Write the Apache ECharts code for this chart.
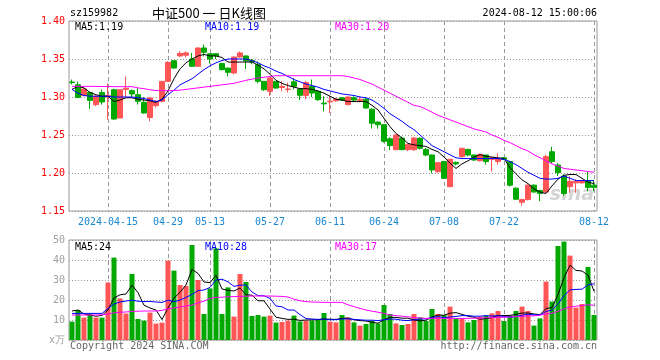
<!DOCTYPE html>
<html><head><meta charset="utf-8">
<script src="https://cdn.jsdelivr.net/npm/echarts@6/dist/echarts.min.js"></script>
<style>html,body{margin:0;padding:0;background:#fff}#c{width:660px;height:360px}</style>
</head><body><div id="c"></div>
<script>
const dates = ['2024-04-03','2024-04-08','2024-04-09','2024-04-10','2024-04-11','2024-04-12','2024-04-15','2024-04-16','2024-04-17','2024-04-18','2024-04-19','2024-04-22','2024-04-23','2024-04-24','2024-04-25','2024-04-26','2024-04-29','2024-04-30',
'2024-05-06','2024-05-07','2024-05-08','2024-05-09','2024-05-10','2024-05-13','2024-05-14','2024-05-15','2024-05-16','2024-05-17','2024-05-20','2024-05-21','2024-05-22','2024-05-23','2024-05-24','2024-05-27','2024-05-28','2024-05-29','2024-05-30','2024-05-31',
'2024-06-03','2024-06-04','2024-06-05','2024-06-06','2024-06-07','2024-06-11','2024-06-12','2024-06-13','2024-06-14','2024-06-17','2024-06-18','2024-06-19','2024-06-20','2024-06-21','2024-06-24','2024-06-25','2024-06-26','2024-06-27','2024-06-28',
'2024-07-01','2024-07-02','2024-07-03','2024-07-04','2024-07-05','2024-07-08','2024-07-09','2024-07-10','2024-07-11','2024-07-12','2024-07-15','2024-07-16','2024-07-17','2024-07-18','2024-07-19','2024-07-22','2024-07-23','2024-07-24','2024-07-25','2024-07-26','2024-07-29','2024-07-30','2024-07-31',
'2024-08-01','2024-08-02','2024-08-05','2024-08-06','2024-08-07','2024-08-08','2024-08-09','2024-08-12'];

const opens = [1.3197,1.3160,1.3018,1.3060,1.2900,1.3060,1.3000,1.3096,1.2724,1.3100,1.3083,1.3030,1.2930,1.2730,1.2886,1.2943,1.3206,1.3478,
1.3540,1.3550,1.3500,1.3404,1.3645,1.3570,1.3570,1.3440,1.3380,1.3316,1.3526,1.3540,1.3480,1.3425,1.3206,1.3075,1.3206,1.3125,1.3100,1.3200,
1.3105,1.3020,1.3140,1.3075,1.2920,1.2935,1.2950,1.2990,1.2900,1.2990,1.2955,1.2970,1.2840,1.2670,1.2636,1.2450,1.2307,1.2460,1.2307,
1.2307,1.2456,1.2310,1.2237,1.2018,1.2150,1.1820,1.2140,1.2215,1.2310,1.2237,1.2162,1.2237,1.2180,1.2150,1.2200,1.2150,1.1800,1.1615,1.1650,1.1840,1.1770,1.1750,
1.2280,1.2105,1.1960,1.1820,1.1870,1.1870,1.1900,1.1840];
const closes = [1.3190,1.2995,1.3105,1.2955,1.3010,1.2935,1.3020,1.2711,1.3096,1.3115,1.3040,1.2943,1.2790,1.2987,1.2943,1.3206,1.3456,1.3382,
1.3575,1.3580,1.3404,1.3645,1.3588,1.3500,1.3540,1.3360,1.3325,1.3526,1.3580,1.3475,1.3460,1.3206,1.3096,1.3250,1.3118,1.3140,1.3105,1.3140,
1.3022,1.3190,1.3052,1.2965,1.2910,1.2945,1.2975,1.2960,1.3000,1.2960,1.2970,1.2855,1.2655,1.2635,1.2417,1.2360,1.2500,1.2307,1.2373,
1.2460,1.2325,1.2237,1.2040,1.2136,1.1930,1.2180,1.2120,1.2325,1.2237,1.2171,1.2246,1.2150,1.2200,1.2190,1.2180,1.1840,1.1655,1.1650,1.1840,1.1750,1.1730,1.2215,
1.2150,1.2005,1.1730,1.1890,1.1890,1.1900,1.1810,1.1810];
const lows = [1.3165,1.2985,1.3010,1.2845,1.2880,1.2900,1.2700,1.2700,1.2720,1.3000,1.3000,1.2900,1.2780,1.2680,1.2860,1.2930,1.3200,1.3370,
1.3530,1.3520,1.3400,1.3400,1.3535,1.3440,1.3500,1.3350,1.3270,1.3300,1.3520,1.3370,1.3430,1.3180,1.3080,1.3010,1.3110,1.3075,1.3060,1.3100,
1.2960,1.2970,1.3000,1.2950,1.2810,1.2790,1.2940,1.2950,1.2890,1.2940,1.2930,1.2850,1.2585,1.2585,1.2400,1.2300,1.2300,1.2300,1.2290,
1.2290,1.2310,1.2220,1.1995,1.2000,1.1920,1.1815,1.2100,1.2200,1.2220,1.2160,1.2150,1.2110,1.2020,1.2110,1.2170,1.1820,1.1650,1.1570,1.1640,1.1740,1.1630,1.1740,
1.2130,1.1960,1.1700,1.1740,1.1740,1.1860,1.1760,1.1760];
const highs = [1.3230,1.3205,1.3115,1.3070,1.3020,1.3100,1.3180,1.3110,1.3100,1.3270,1.3100,1.3115,1.3000,1.3000,1.2960,1.3210,1.3470,1.3480,
1.3600,1.3600,1.3580,1.3650,1.3690,1.3570,1.3575,1.3450,1.3385,1.3530,1.3600,1.3545,1.3500,1.3470,1.3210,1.3255,1.3210,1.3210,1.3190,1.3250,
1.3110,1.3210,1.3230,1.3080,1.3010,1.3010,1.2990,1.3000,1.3010,1.3010,1.3010,1.2990,1.2850,1.2680,1.2640,1.2470,1.2510,1.2480,1.2390,
1.2475,1.2470,1.2330,1.2240,1.2140,1.2160,1.2185,1.2150,1.2330,1.2320,1.2240,1.2255,1.2240,1.2210,1.2260,1.2210,1.2160,1.1810,1.1660,1.1850,1.1850,1.1780,1.2240,
1.2345,1.2130,1.1980,1.1955,1.1920,1.1910,1.2020,1.1910];

const ma5 = [1.310,1.314,1.312,1.306,1.303,1.301,1.301,1.294,1.296,1.299,1.299,1.297,1.296,1.295,1.293,1.297,1.308,1.324,
1.337,1.345,1.350,1.354,1.356,1.354,1.354,1.352,1.346,1.346,1.346,1.346,1.346,1.342,1.337,1.330,1.322,1.318,1.315,1.313,
1.311,1.311,1.310,1.308,1.305,1.301,1.297,1.296,1.294,1.294,1.294,1.294,1.289,1.283,1.272,1.261,1.252,1.246,1.239,
1.237,1.236,1.235,1.231,1.228,1.221,1.213,1.206,1.212,1.216,1.221,1.224,1.222,1.221,1.220,1.219,1.207,1.199,1.191,1.186,1.179,1.175,1.173,
1.183,1.192,1.197,1.198,1.198,1.193,1.188,1.186];
const ma10 = [1.310,1.305,1.302,1.301,1.301,1.301,1.301,1.300,1.300,1.300,1.300,1.299,1.298,1.296,1.294,1.296,1.303,1.309,
1.316,1.320,1.324,1.330,1.336,1.341,1.345,1.348,1.350,1.350,1.350,1.350,1.348,1.345,1.341,1.338,1.334,1.331,1.327,1.323,
1.320,1.317,1.315,1.313,1.310,1.308,1.306,1.304,1.303,1.302,1.300,1.299,1.296,1.291,1.285,1.278,1.273,1.268,1.262,
1.257,1.250,1.243,1.236,1.232,1.228,1.224,1.220,1.219,1.219,1.219,1.219,1.219,1.219,1.219,1.218,1.215,1.211,1.206,1.201,1.197,1.193,1.192,
1.192,1.193,1.196,1.193,1.190,1.190,1.190,1.190];
const ma30 = [1.314,1.314,1.314,1.314,1.314,1.3138,1.3138,1.3136,1.3136,1.3136,1.3136,1.312,1.311,1.3095,1.3085,1.3083,1.3083,1.3085,
1.309,1.310,1.311,1.312,1.313,1.314,1.315,1.316,1.317,1.318,1.320,1.322,1.3235,1.325,1.326,1.327,1.328,1.328,1.328,1.328,
1.328,1.328,1.328,1.328,1.328,1.328,1.328,1.328,1.327,1.325,1.323,1.320,1.317,1.313,1.309,1.305,1.301,1.297,1.293,
1.289,1.2875,1.284,1.280,1.276,1.273,1.270,1.267,1.264,1.261,1.258,1.256,1.254,1.250,1.247,1.243,1.240,1.236,1.232,1.229,1.224,1.220,1.216,
1.212,1.209,1.206,1.205,1.204,1.203,1.202,1.201];

const volumes = [9.2,15,11.2,12.8,11.2,11.2,28.7,41.2,20.8,13.2,33,10.5,9.7,13.7,8.2,8.7,39.7,34.7,
27.5,27,47.5,30,13,25.8,45.8,13,26.3,11.7,33,29,12,12.5,11.7,12.2,8.7,9,9.7,12.2,
9.3,9.7,9.8,10,13.5,9.2,8.8,12.5,11.2,8.8,7.2,8,9.5,8.3,17.5,13,8.3,7.5,8,
13,11.3,9.5,15.5,13,12.5,16.7,10.8,10.8,8.8,10,11.7,12.2,13.3,14.5,9.5,12.2,14.5,16.7,14.5,7.2,10.8,29.2,
19.2,47,49.2,42.2,16.2,18,36.5,12.5];
const volMa5 = [14.5,15,13,12.5,11.9,12.3,15.0,21.0,22.6,23.0,27.4,23.7,17.4,16.0,15.0,10.2,16.0,21.0,
23.8,27.5,35.3,33.3,29.0,28.7,32.4,25.5,24.8,24.5,26.0,22.6,22.4,19.6,19.6,15.5,11.4,10.8,10.3,10.4,
9.8,10.0,10.1,10.2,10.5,10.4,10.3,10.8,11.0,10.1,9.7,9.5,8.9,8.4,10.1,11.3,11.3,10.9,10.9,
10.0,9.6,9.9,11.5,12.5,12.4,13.4,13.7,12.8,11.9,11.4,10.4,10.7,11.2,12.3,12.2,12.3,12.8,13.5,13.5,13.0,12.7,15.7,
16.2,22.7,31.1,37.4,34.8,34.5,32.4,24.4];
const volMa10 = [13.3,13.3,13.3,13.3,13.3,13.3,15.8,18.0,19.0,19.5,19.9,19.4,19.2,19.3,19.0,18.8,19.9,19.2,
19.9,21.3,22.8,24.7,25.0,26.3,30.0,30.4,29.1,26.8,27.4,27.5,24.0,22.2,22.1,20.8,17.0,16.6,15.0,15.0,
12.7,10.7,10.5,10.3,10.5,10.1,10.2,10.5,10.6,10.3,10.1,9.9,9.9,9.7,10.1,10.5,10.4,9.9,9.7,
10.1,10.5,10.6,11.2,11.7,11.2,11.5,11.8,12.2,12.2,11.9,11.9,12.2,12.0,12.1,11.8,11.4,11.8,12.4,12.9,12.6,12.5,14.3,
14.9,18.1,22.1,25.1,25.3,25.4,27.6,28.1];
const volMa30 = [12.5,12.5,12.5,12.5,12.5,12.6,13.0,13.6,13.9,14.0,14.3,14.4,14.5,14.5,14.5,14.8,15.6,16.0,
16.5,17.0,17.5,18.6,19.4,20.8,21.3,21.4,21.6,21.7,21.8,21.9,22.0,22.0,22.0,22.0,21.9,21.8,21.5,20.4,
19.6,19.2,19.0,18.9,18.8,18.8,18.8,18.8,17.6,16.7,15.8,15.0,14.4,13.9,13.3,12.5,12.2,11.9,11.6,
11.2,11.0,10.8,10.8,10.8,10.8,10.8,10.8,10.8,10.8,10.9,11.0,11.1,11.2,11.3,11.4,11.5,11.7,11.8,12.0,12.1,12.4,13.0,
13.4,14.3,15.6,16.5,16.9,17.2,17.6,17.4];

const tickDates = ['2024-04-15','2024-04-29','2024-05-13','2024-05-27','2024-06-11','2024-06-24','2024-07-08','2024-07-22','2024-08-12'];
const tickLabels = ['2024-04-15','04-29','05-13','05-27','06-11','06-24','07-08','07-22','08-12'];
const priceTicks = [1.15,1.20,1.25,1.30,1.35,1.40];
const volTicks = [0,10,20,30,40,50];

const UP = '#ff5555', DOWN = '#00a800';
const MONO = '"DejaVu Sans Mono", "Liberation Mono", monospace';
const GRIDC = '#999999';

const candleData = dates.map((d, i) => [opens[i], closes[i], lows[i], highs[i]]);
const volData = volumes.map((v, i) => ({ value: v, itemStyle: { color: closes[i] >= opens[i] ? UP : DOWN } }));
const tickIdx = tickDates.map(d => [dates.indexOf(d)]);

// dashed vertical guide lines at the labelled dates, placed by the category axis
function vlineSeries(ax) {
  return {
    type: 'custom', xAxisIndex: ax, yAxisIndex: ax, data: tickIdx, silent: true,
    encode: { x: 0 },
    renderItem: (params, api) => {
      const cs = params.coordSys;
      const x = Math.round(api.coord([api.value(0), ax === 0 ? 1.3 : 10])[0]) + 0.5;
      return { type: 'line', shape: { x1: x, y1: cs.y, x2: x, y2: cs.y + cs.height },
        style: { stroke: GRIDC, lineWidth: 1, lineDash: [4, 3] } };
    }
  };
}

const chart = echarts.init(document.getElementById('c'));
const last = a => a[a.length - 1];
const txt = (x, y, t, color, align) => ({
  type: 'text', x: x, y: y, z: 100,
  style: { text: t, fill: color, font: '10px ' + MONO, textAlign: align || 'left', textVerticalAlign: 'middle' }
});

chart.setOption({
  animation: false,
  backgroundColor: '#fff',
  grid: [
    { left: 69, top: 21, width: 528, height: 190, show: true, borderColor: '#999', borderWidth: 1 },
    { left: 69, top: 240, width: 528, height: 100, show: true, borderColor: '#999', borderWidth: 1 }
  ],
  xAxis: [
    { type: 'category', gridIndex: 0, data: dates,
      axisLine: { show: false }, axisTick: { show: false },
      axisLabel: { interval: (i, v) => tickDates.indexOf(v) >= 0, formatter: v => tickLabels[tickDates.indexOf(v)] || '',
        color: '#1a88d0', fontFamily: MONO, fontSize: 10, margin: 6 } },
    { type: 'category', gridIndex: 1, data: dates,
      axisLine: { show: false }, axisTick: { show: false }, axisLabel: { show: false } }
  ],
  yAxis: [
    { type: 'value', gridIndex: 0, min: 1.15, max: 1.40, interval: 0.05,
      axisLine: { show: false },
      splitLine: { show: true, lineStyle: { color: GRIDC, type: [1, 2], width: 1 } },
      axisLabel: { color: '#ff0000', fontFamily: MONO, fontSize: 10, margin: 4, formatter: v => v.toFixed(2) } },
    { type: 'value', gridIndex: 1, min: 0, max: 50, interval: 10,
      axisLine: { show: false },
      splitLine: { show: true, lineStyle: { color: GRIDC, type: [1, 2], width: 1 } },
      axisLabel: { color: '#a0a0a0', fontFamily: MONO, fontSize: 10, margin: 4, formatter: v => v === 0 ? 'x万' : String(v) } }
  ],
  series: [
    vlineSeries(0),
    vlineSeries(1),
    { type: 'candlestick', xAxisIndex: 0, yAxisIndex: 0, data: candleData, barWidth: 5,
      itemStyle: { color: UP, color0: DOWN, borderColor: UP, borderColor0: DOWN, borderWidth: 1 } },
    { type: 'line', xAxisIndex: 0, yAxisIndex: 0, data: ma5, symbol: 'none', lineStyle: { color: '#000', width: 1 } },
    { type: 'line', xAxisIndex: 0, yAxisIndex: 0, data: ma10, symbol: 'none', lineStyle: { color: '#0000ff', width: 1 } },
    { type: 'line', xAxisIndex: 0, yAxisIndex: 0, data: ma30, symbol: 'none', lineStyle: { color: '#ff00ff', width: 1 } },
    { type: 'bar', xAxisIndex: 1, yAxisIndex: 1, data: volData, barWidth: 5 },
    { type: 'line', xAxisIndex: 1, yAxisIndex: 1, data: volMa5, symbol: 'none', lineStyle: { color: '#000', width: 1 } },
    { type: 'line', xAxisIndex: 1, yAxisIndex: 1, data: volMa10, symbol: 'none', lineStyle: { color: '#0000ff', width: 1 } },
    { type: 'line', xAxisIndex: 1, yAxisIndex: 1, data: volMa30, symbol: 'none', lineStyle: { color: '#ff00ff', width: 1 } }
  ],
  graphic: [
    txt(70, 13, 'sz159982', '#000'),
    { type: 'text', x: 209, y: 13, z: 100, style: { text: '中证500 一 日K线图', fill: '#000', font: '13px "Noto Sans CJK SC", sans-serif', textAlign: 'center', textVerticalAlign: 'middle' } },
    txt(597, 13, '2024-08-12 15:00:06', '#000', 'right'),
    txt(75, 27, 'MA5:' + last(ma5).toFixed(2), '#000'),
    txt(205, 27, 'MA10:' + last(ma10).toFixed(2), '#0000ff'),
    txt(335, 27, 'MA30:' + last(ma30).toFixed(2), '#ff00ff'),
    txt(75, 247, 'MA5:' + Math.round(last(volMa5)), '#000'),
    txt(205, 247, 'MA10:' + Math.round(last(volMa10)), '#0000ff'),
    txt(335, 247, 'MA30:' + Math.round(last(volMa30)), '#ff00ff'),
    txt(70, 346, 'Copyright 2024 SINA.COM', '#666'),
    txt(597, 346, 'http://finance.sina.com.cn', '#666', 'right'),
    { type: 'text', x: 594, y: 195, z: 1, style: { text: 'sina', fill: '#d4d4d4', font: 'italic bold 19px "DejaVu Sans", sans-serif', textAlign: 'right', textVerticalAlign: 'middle' } }
  ]
});
</script></body></html>
